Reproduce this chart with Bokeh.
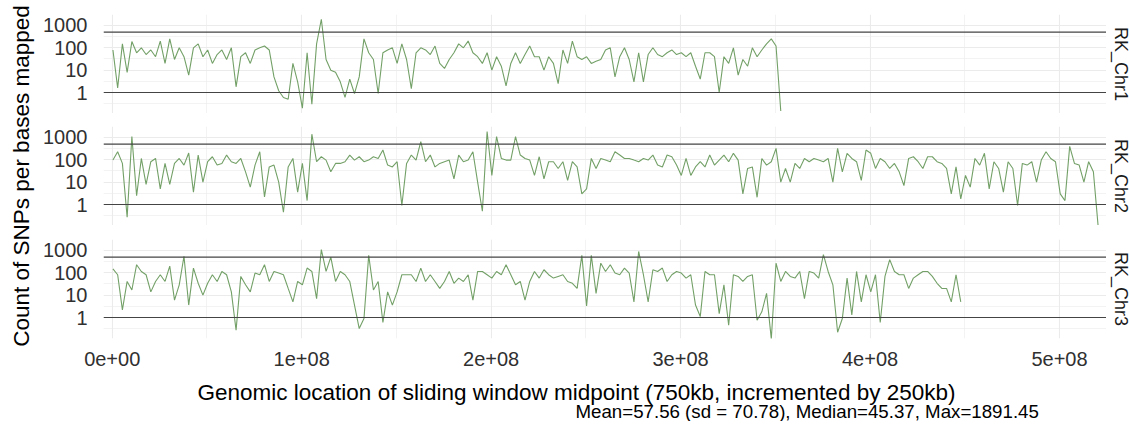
from math import pi
from bokeh.plotting import figure
from bokeh.layouts import row, column
from bokeh.models import Range1d, Span, Label, FixedTicker, CustomJSTickFormatter, PrintfTickFormatter
from bokeh.embed import file_html
from bokeh.resources import INLINE

# ---------------- data ----------------
chromosomes = ["RK_Chr1", "RK_Chr2", "RK_Chr3"]
first_mid_bp = 375000          # first window midpoint
sample_step_bp = 2500000       # spacing of the values

chr1_snps = [
    80, 1.6, 150, 8, 190, 60, 100, 50, 80, 40,
    200, 20, 250, 30, 100, 40, 6, 100, 150, 40,
    80, 20, 50, 80, 30, 100, 1.8, 40, 60, 20,
    80, 100, 120, 80, 5, 1.2, 0.6, 0.5, 20, 3,
    0.2, 60, 0.3, 150, 1891.45, 30, 10, 8, 3, 0.6,
    4, 0.9, 5, 250, 60, 30, 0.9, 60, 80, 100,
    20, 150, 30, 1.5, 60, 100, 80, 50, 120, 20,
    12, 30, 60, 150, 100, 200, 60, 40, 20, 60,
    10, 40, 15, 2, 20, 60, 20, 50, 120, 40,
    40, 10, 40, 20, 2.5, 80, 20, 200, 40, 30,
    40, 20, 25, 30, 80, 100, 5, 40, 100, 30,
    3, 60, 3, 50, 100, 50, 40, 60, 80, 50,
    60, 40, 60, 15, 4, 60, 60, 40, 1, 40,
    20, 100, 6, 30, 15, 100, 40, 80, 150, 250,
    120, 0.15,
]

chr2_snps = [
    97, 230, 69, 0.27, 1100, 2.5, 115, 8, 82, 115,
    5, 69, 8, 69, 115, 58, 200, 3.6, 163, 10,
    82, 137, 58, 69, 163, 82, 69, 115, 29, 6,
    58, 230, 2.2, 48, 58, 10, 0.45, 48, 115, 3.6,
    69, 1.5, 1400, 82, 137, 97, 29, 69, 69, 82,
    163, 97, 137, 82, 97, 137, 115, 275, 58, 48,
    82, 0.9, 69, 163, 97, 650, 82, 163, 48, 69,
    82, 97, 14, 163, 82, 97, 230, 10, 0.5, 1850,
    20, 1100, 115, 97, 97, 1100, 163, 115, 97, 20,
    137, 14, 82, 82, 41, 82, 12, 82, 48, 3,
    5, 115, 41, 115, 97, 82, 230, 163, 115, 115,
    97, 82, 115, 97, 163, 58, 48, 163, 137, 58,
    20, 115, 20, 48, 82, 48, 163, 58, 97, 163,
    82, 195, 97, 3, 41, 48, 2.1, 115, 58, 82,
    325, 10, 41, 10, 69, 41, 115, 82, 115, 97,
    82, 115, 10, 325, 29, 195, 115, 82, 12, 275,
    195, 41, 115, 82, 41, 69, 29, 7, 115, 137,
    82, 41, 137, 137, 82, 69, 41, 3, 48, 1.8,
    20, 6, 115, 58, 195, 5, 82, 41, 3.6, 82,
    41, 0.9, 69, 58, 82, 10, 97, 230, 115, 82,
    3, 1.5, 400, 69, 58, 10, 82, 29, 0.11,
]

chr3_snps = [
    150, 82, 2.2, 41, 17, 230, 115, 82, 14, 41,
    82, 41, 200, 6, 29, 550, 3.6, 163, 34, 10,
    34, 82, 41, 115, 82, 14, 0.27, 69, 29, 14,
    97, 82, 230, 41, 115, 97, 82, 20, 5, 41,
    29, 163, 115, 7, 1100, 115, 500, 41, 115, 82,
    41, 3.6, 0.32, 0.9, 600, 17, 41, 0.6, 14, 3.6,
    14, 82, 82, 82, 41, 163, 41, 82, 41, 20,
    41, 115, 34, 58, 41, 82, 6, 115, 115, 82,
    58, 115, 82, 230, 82, 29, 41, 6, 41, 115,
    58, 137, 82, 58, 69, 82, 41, 34, 20, 600,
    3.3, 600, 12, 270, 115, 230, 97, 82, 163, 97,
    5, 900, 82, 5, 137, 115, 163, 41, 82, 115,
    97, 58, 82, 3.6, 1.1, 115, 82, 82, 1.5, 29,
    0.45, 82, 69, 41, 69, 82, 0.75, 1.8, 12, 0.11,
    270, 41, 115, 69, 58, 115, 7, 115, 97, 58,
    650, 115, 29, 0.22, 0.9, 58, 1.3, 115, 5, 82,
    14, 82, 0.6, 69, 390, 115, 82, 82, 20, 58,
    82, 115, 115, 69, 34, 20, 20, 5, 82, 5,
]

x_ticks = [0, 1e8, 2e8, 3e8, 4e8, 5e8]
x_minor_ticks = [5e7, 1.5e8, 2.5e8, 3.5e8, 4.5e8]
y_ticks = [1, 10, 100, 1000]
y_minor_ticks = [0.3162, 3.162, 31.62, 316.2]
reference_levels = [1, 500]

y_title = "Count of SNPs per bases mapped"
x_title = "Genomic location of sliding window midpoint (750kb, incremented by 250kb)"
caption = "Mean=57.56 (sd = 70.78), Median=45.37, Max=1891.45"

# ---------------- styling ----------------
FONT = "Liberation Sans"
LINE_COLOR = "#73A067"
GRID = "#EBEBEB"
TOTAL_H = 421

x_rng = Range1d(-4.6e6, 5.248e8)

xfmt = CustomJSTickFormatter(code=r"""
const s = tick.toExponential(0);
return s.replace(/e([+-])(\d)$/, (m, a, b) => 'e' + a + '0' + b);
""")


def blank(width, height):
    f = figure(width=width, height=height, x_range=Range1d(0, 1), y_range=Range1d(0, 1),
               x_axis_location=None, y_axis_location=None, min_border=0,
               min_border_top=0, min_border_bottom=0,
               output_backend="svg", toolbar_location=None, title=None)
    f.grid.visible = False
    f.outline_line_color = None
    return f


def make_panel(values, top, bottom, with_xaxis):
    p = figure(frame_width=1003, frame_height=99,
               min_border_left=50, min_border_right=0,
               min_border_top=top, min_border_bottom=bottom,
               x_range=x_rng, y_range=Range1d(0.115, 3090),
               y_axis_type="log",
               x_axis_location="below" if with_xaxis else None,
               output_backend="svg", toolbar_location=None, title=None)
    p.outline_line_color = None

    p.xgrid.ticker = FixedTicker(ticks=x_ticks, minor_ticks=x_minor_ticks)
    p.ygrid.ticker = FixedTicker(ticks=y_ticks, minor_ticks=y_minor_ticks)
    for g in (p.xgrid, p.ygrid):
        g.grid_line_color = GRID
        g.grid_line_width = 1.1
        g.minor_grid_line_color = GRID
        g.minor_grid_line_width = 0.6

    ya = p.yaxis[0]
    ya.ticker = FixedTicker(ticks=y_ticks, minor_ticks=y_minor_ticks)
    ya.formatter = PrintfTickFormatter(format="%d")
    ya.axis_line_color = None
    ya.major_tick_line_color = None
    ya.minor_tick_line_color = None
    ya.major_tick_out = 0
    ya.major_tick_in = 0
    ya.major_label_standoff = 12
    ya.major_label_text_font = FONT
    ya.major_label_text_font_size = "20px"
    ya.major_label_text_color = "#303030"

    if with_xaxis:
        xa = p.xaxis[0]
        xa.ticker = FixedTicker(ticks=x_ticks, minor_ticks=x_minor_ticks)
        xa.formatter = xfmt
        xa.axis_line_color = None
        xa.major_tick_line_color = None
        xa.minor_tick_line_color = None
        xa.major_tick_out = 0
        xa.major_tick_in = 0
        xa.major_label_standoff = 9
        xa.axis_label_standoff = 0
        xa.major_label_text_font = FONT
        xa.major_label_text_font_size = "20px"
        xa.major_label_text_color = "#303030"

    xs = [first_mid_bp + sample_step_bp * i for i in range(len(values))]
    p.line(xs, values, line_color=LINE_COLOR, line_width=1.1)

    for lev in reference_levels:
        p.add_layout(Span(location=lev, dimension="width",
                          line_color="#444444", line_width=1.2))
    return p


p1 = make_panel(chr1_snps, 14, 0, False)
p2 = make_panel(chr2_snps, 13, 0, False)
p3 = make_panel(chr3_snps, 14, 35, True)

# bottom strip: x-axis title and caption (its frame is aligned with the panels' frames)
bf = blank(1053, TOTAL_H - (113 + 112 + 148))
bf.add_layout(Label(x=473, y=29, x_units="screen", y_units="screen",
                    text=x_title, text_align="center", text_baseline="alphabetic",
                    text_font=FONT, text_font_size="22.5px", text_color="black"))
bf.add_layout(Label(x=472, y=10.5, x_units="screen", y_units="screen",
                    text=caption, text_align="left", text_baseline="alphabetic",
                    text_font=FONT, text_font_size="18.7px", text_color="black"))

# left strip: shared y-axis title
lf = blank(40, TOTAL_H)
lf.add_layout(Label(x=20.6, y=245.5, x_units="screen", y_units="screen",
                    text=y_title, angle=pi / 2, text_align="center",
                    text_baseline="alphabetic", text_font=FONT,
                    text_font_size="22.5px", text_color="black"))

# right strip: facet labels
rf = blank(27, TOTAL_H)
for name, yc in zip(chromosomes, [357.5, 245.5, 132.5]):
    rf.add_layout(Label(x=14, y=yc, x_units="screen", y_units="screen",
                        text=name, angle=-pi / 2, text_align="center",
                        text_baseline="alphabetic", text_font=FONT,
                        text_font_size="18px", text_color="#1A1A1A"))

layout = row(lf, column(p1, p2, p3, bf), rf)

open("out.html", "w").write(file_html(layout, INLINE))
